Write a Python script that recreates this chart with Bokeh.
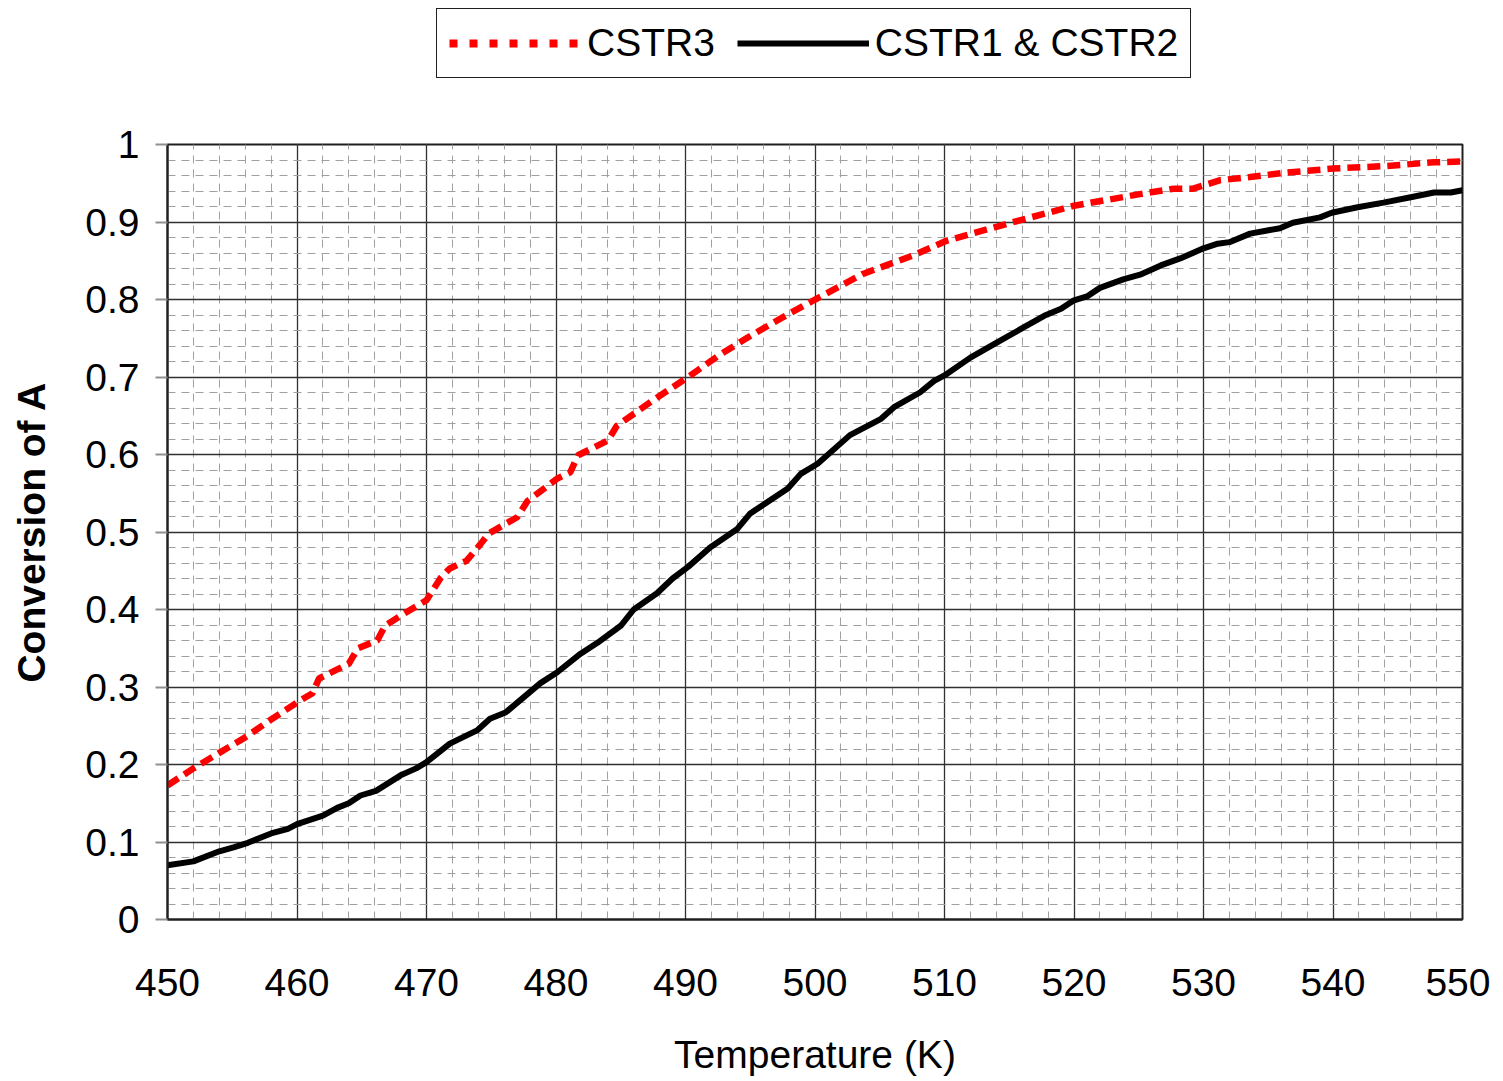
from bokeh.plotting import figure
from bokeh.layouts import column
from bokeh.models import (Range1d, SingleIntervalTicker, CustomJSTickFormatter,
                          Legend, LegendItem)
from bokeh.embed import file_html
from bokeh.resources import INLINE

# CSTR3 (red dashed)
t_cstr3 = [450, 452, 454, 456, 458, 460, 461.2, 461.7, 464, 464.7, 466.2, 466.8,
           468, 470, 471.1, 471.8, 473.1, 474.2, 474.8, 477, 477.8, 480.1, 481.1,
           481.7, 484, 484.7, 487.5, 490.2, 492.5, 494.8, 497.5, 499.9, 503.7,
           507.6, 510.2, 514.9, 520, 525.1, 527.7, 529.2, 531.3, 533.6, 536,
           540, 543.9, 547.8, 550]
x_cstr3 = [0.173, 0.195, 0.215, 0.235, 0.258, 0.280, 0.292, 0.311, 0.330, 0.350,
           0.360, 0.379, 0.392, 0.412, 0.441, 0.453, 0.463, 0.485, 0.498, 0.519,
           0.540, 0.569, 0.577, 0.599, 0.618, 0.637, 0.670, 0.700, 0.727, 0.751,
           0.777, 0.799, 0.833, 0.857, 0.876, 0.898, 0.921, 0.936, 0.943, 0.943,
           0.954, 0.958, 0.963, 0.969, 0.972, 0.977, 0.978]

# CSTR1 & CSTR2 (black solid)
t_cstr12 = [450, 452, 454, 455.1, 456.2, 458, 459.3, 460, 462, 463.1, 464, 464.9,
            466.1, 468, 469.2, 470, 471.8, 473.9, 474.9, 476.1, 478.8, 480.1,
            481.9, 483.2, 485, 486, 487.8, 489, 490.2, 491.9, 494, 495, 495.9,
            497.9, 498.9, 500.2, 502.7, 505.1, 506.1, 508.1, 509.2, 510, 512,
            514.1, 515.9, 517.7, 519, 520, 521, 522, 523.8, 525.1, 526.7, 528.2,
            530, 531.1, 532, 533.6, 535.9, 536.9, 539, 539.9, 541.9, 543.9, 546,
            547.8, 549.1, 550]
x_cstr12 = [0.070, 0.075, 0.088, 0.093, 0.099, 0.111, 0.117, 0.123, 0.134, 0.144,
            0.150, 0.160, 0.166, 0.186, 0.195, 0.203, 0.227, 0.244, 0.259, 0.267,
            0.305, 0.319, 0.343, 0.357, 0.379, 0.400, 0.421, 0.440, 0.455, 0.480,
            0.504, 0.524, 0.534, 0.556, 0.575, 0.588, 0.625, 0.646, 0.661, 0.680,
            0.695, 0.702, 0.725, 0.745, 0.762, 0.779, 0.788, 0.799, 0.804, 0.815,
            0.826, 0.832, 0.844, 0.853, 0.866, 0.872, 0.874, 0.885, 0.892, 0.899,
            0.906, 0.912, 0.919, 0.925, 0.932, 0.938, 0.938, 0.941]

series_labels = ["CSTR3", "CSTR1 & CSTR2"]

FONT = "Liberation Sans"
RED_STYLE = dict(line_color="#ff0000", line_width=6.5, line_dash="13 7")
BLACK_STYLE = dict(line_color="black", line_width=6)

# ---------- main chart ----------
p = figure(width=1490, height=968, output_backend="svg", toolbar_location=None,
           x_range=Range1d(450, 550), y_range=Range1d(0, 1),
           min_border_left=167, min_border_top=34, min_border_bottom=159,
           min_border_right=28)

p.outline_line_color = "#202020"
p.outline_line_width = 2
p.outline_line_alpha = 1
p.background_fill_color = "white"
p.border_fill_color = "white"

p.xaxis.ticker = SingleIntervalTicker(interval=10, num_minor_ticks=5)
p.yaxis.ticker = SingleIntervalTicker(interval=0.1, num_minor_ticks=5)
p.yaxis.formatter = CustomJSTickFormatter(code="return String(Number(tick.toFixed(2)));")

for ax in (p.xaxis[0], p.yaxis[0]):
    ax.major_label_text_font = FONT
    ax.major_label_text_font_size = "39px"
    ax.major_label_text_color = "black"
    ax.axis_label_text_font = FONT
    ax.axis_label_text_font_size = "39px"
    ax.axis_label_text_color = "black"
    ax.axis_line_color = "#202020"
    ax.axis_line_width = 2
    ax.minor_tick_line_color = None

p.xaxis.axis_label = "Temperature (K)"
p.xaxis.axis_label_text_font_style = "normal"
p.xaxis.major_tick_out = 0
p.xaxis.major_tick_in = 0
p.xaxis.major_label_standoff = 45
p.xaxis.axis_label_standoff = 34

p.yaxis.axis_label = "Conversion of A"
p.yaxis.axis_label_text_font_style = "bold"
p.yaxis.major_tick_out = 12
p.yaxis.major_tick_in = 0
p.yaxis.major_tick_line_color = "#909090"
p.yaxis.major_tick_line_width = 2
p.yaxis.major_label_standoff = 16
p.yaxis.axis_label_standoff = 29

p.xgrid.grid_line_color = "#303030"
p.ygrid.grid_line_color = "#303030"
p.xgrid.grid_line_width = 1.3
p.ygrid.grid_line_width = 1.3
p.xgrid.minor_grid_line_color = "#a0a0a0"
p.ygrid.minor_grid_line_color = "#a0a0a0"
p.xgrid.minor_grid_line_dash = "8 6"
p.ygrid.minor_grid_line_dash = "8 6"
p.xgrid.minor_grid_line_width = 1
p.ygrid.minor_grid_line_width = 1

p.line(t_cstr3, x_cstr3, **RED_STYLE)
p.line(t_cstr12, x_cstr12, **BLACK_STYLE)

# ---------- legend strip above the chart ----------
# (its frame is aligned with the chart's frame by the column layout; the
#  series drawn here fall outside its ranges and only feed the legend glyphs)
lg = figure(width=1490, height=110, output_backend="svg", toolbar_location=None,
            x_axis_type=None, y_axis_type=None,
            x_range=Range1d(0, 1), y_range=Range1d(0, 1),
            min_border_left=0, min_border_right=0, min_border_top=0,
            min_border_bottom=0)
lg.grid.visible = False
lg.outline_line_color = None
lg.background_fill_color = "white"
lg.border_fill_color = "white"

k3 = lg.line(t_cstr3, x_cstr3, line_color="#ff0000", line_width=8, line_dash="8 12")
k12 = lg.line(t_cstr12, x_cstr12, **BLACK_STYLE)

legend = Legend(items=[LegendItem(label=series_labels[0], renderers=[k3]),
                       LegendItem(label=series_labels[1], renderers=[k12])],
                orientation="horizontal", location=(269, 32))
legend.label_text_font = FONT
legend.label_text_font_size = "39px"
legend.label_text_color = "black"
legend.glyph_width = 132
legend.glyph_height = 44
legend.label_height = 44
legend.label_standoff = 6
legend.spacing = 22
legend.padding = 12
legend.margin = 0
legend.border_line_color = "#202020"
legend.border_line_alpha = 1
legend.border_line_width = 1.5
legend.background_fill_alpha = 1
lg.add_layout(legend, "center")

layout = column(lg, p, spacing=0)
open("out.html", "w").write(file_html(layout, INLINE))
